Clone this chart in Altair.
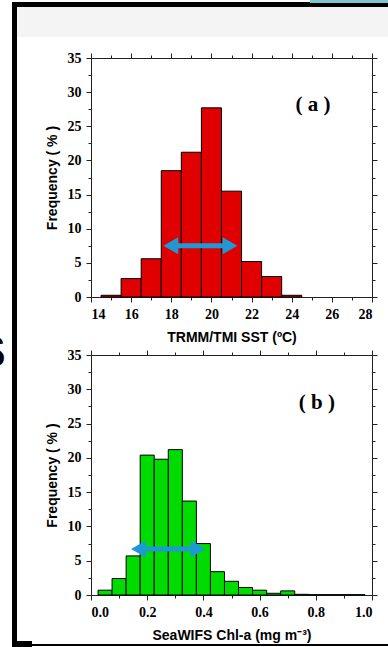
import altair as alt
import pandas as pd

# ---- Panel (a): TRMM/TMI SST, 1 degC bins centred on whole degrees ----
sst_lo = [14.5, 15.5, 16.5, 17.5, 18.5, 19.5, 20.5, 21.5, 22.5, 23.5]
sst_hi = [15.5, 16.5, 17.5, 18.5, 19.5, 20.5, 21.5, 22.5, 23.5, 24.5]
sst_freq = [0.25, 2.7, 5.6, 18.5, 21.2, 27.7, 15.5, 5.2, 3.0, 0.25]
sst_arrow_x = [17.5, 21.4]
sst_arrow_y = 7.5

# ---- Panel (b): SeaWiFS Chl-a, 0.05 mg m-3 bins ----
chl_lo = [0.025, 0.075, 0.125, 0.175, 0.225, 0.275, 0.325, 0.375, 0.425, 0.475,
          0.525, 0.575, 0.625, 0.675, 0.725, 0.775, 0.825, 0.875, 0.925]
chl_hi = [0.075, 0.125, 0.175, 0.225, 0.275, 0.325, 0.375, 0.425, 0.475, 0.525,
          0.575, 0.625, 0.675, 0.725, 0.775, 0.825, 0.875, 0.925, 0.975]
chl_freq = [0.7, 2.4, 5.7, 20.4, 19.8, 21.2, 13.7, 7.5, 3.4, 2.0,
            1.1, 0.7, 0.25, 0.6, 0.1, 0.05, 0.05, 0.05, 0.05]
chl_arrow_x = [0.135, 0.415]
chl_arrow_y = 6.7

sst_ticks = [14, 16, 18, 20, 22, 24, 26, 28]
sst_minor = [15, 17, 19, 21, 23, 25, 27]
chl_ticks = [0.0, 0.2, 0.4, 0.6, 0.8, 1.0]
chl_minor = [0.1, 0.3, 0.5, 0.7, 0.9]
freq_ticks = [0, 5, 10, 15, 20, 25, 30, 35]
freq_minor = [2.5, 7.5, 12.5, 17.5, 22.5, 27.5, 32.5]

W, H = 281, 537          # plot frame width, total stacked height
A_BOTTOM, B_TOP = 239, 297

SERIF = "Liberation Serif"
SANS = "Liberation Sans"
INK = "#222222"
ARROW = "#1d9ad6"

df_a = pd.DataFrame({"lo": sst_lo, "hi": sst_hi, "freq": sst_freq})
df_b = pd.DataFrame({"lo": chl_lo, "hi": chl_hi, "freq": chl_freq})


def frame_axis(orient, values, size, offset=0, domain=True):
    return alt.Axis(orient=orient, values=values, tickSize=size, labels=False,
                    domain=domain, domainColor=INK, tickColor=INK, ticks=True,
                    grid=False, title=None, offset=offset)


def panel(df, xdom, ydom_range, x_off, top_off, major_x, minor_x, xlabel,
          x_fmt, arrow_x, arrow_y, tag, tag_x, tag_y, color):
    xs = alt.Scale(domain=xdom, range=[0, W], nice=False, zero=False)
    ys = alt.Scale(domain=[0, 35], range=ydom_range, nice=False)

    bars = alt.Chart(df).mark_rect(color=color, stroke="black", strokeWidth=1).encode(
        x=alt.X("lo:Q", scale=xs, axis=alt.Axis(
            orient="bottom", offset=x_off, values=major_x, format=x_fmt,
            tickSize=5, tickColor=INK, domainColor=INK, grid=False,
            labelFont=SERIF, labelFontWeight="bold", labelFontSize=14,
            labelColor="black", labelPadding=5,
            title=xlabel, titleFont=SANS, titleFontWeight="bold",
            titleFontSize=14, titleColor="black", titleY=40,
            titleBaseline="middle")),
        x2="hi:Q",
        y=alt.Y("freq:Q", scale=ys, axis=alt.Axis(
            orient="left", values=freq_ticks, tickSize=5, tickColor=INK,
            domainColor=INK, grid=False,
            labelFont=SERIF, labelFontWeight="bold", labelFontSize=14,
            labelColor="black", labelPadding=5,
            title="Frequency ( % )", titleFont=SANS, titleFontWeight="bold",
            titleFontSize=14, titleColor="black", titleX=-39,
            titleBaseline="middle")),
        y2=alt.datum(0),
    )

    def ghost(xaxis, yaxis):
        return alt.Chart(df).mark_point(opacity=0).encode(
            x=alt.X("lo:Q", scale=xs, axis=xaxis),
            y=alt.Y("freq:Q", scale=ys, axis=yaxis),
        )

    frame_major = ghost(frame_axis("top", major_x, 5, top_off),
                        frame_axis("right", freq_ticks, 5))
    minor_bl = ghost(frame_axis("bottom", minor_x, 3, x_off, domain=False),
                     frame_axis("left", freq_minor, 3, domain=False))
    minor_tr = ghost(frame_axis("top", minor_x, 3, top_off, domain=False),
                     frame_axis("right", freq_minor, 3, domain=False))

    arr = pd.DataFrame({"x0": [arrow_x[0]], "x1": [arrow_x[1]], "y": [arrow_y]})
    shaft = alt.Chart(arr).mark_rule(color=ARROW, strokeWidth=5,
                                     xOffset=8, x2Offset=-8).encode(
        x=alt.X("x0:Q", scale=xs, axis=None),
        x2="x1:Q",
        y=alt.Y("y:Q", scale=ys, axis=None),
    )
    head_l = alt.Chart(arr).mark_point(shape="triangle-left", size=290, filled=True,
                                       opacity=1, color=ARROW, xOffset=9.5).encode(
        x=alt.X("x0:Q", scale=xs, axis=None),
        y=alt.Y("y:Q", scale=ys, axis=None),
    )
    head_r = alt.Chart(arr).mark_point(shape="triangle-right", size=290, filled=True,
                                       opacity=1, color=ARROW, xOffset=-9.5).encode(
        x=alt.X("x1:Q", scale=xs, axis=None),
        y=alt.Y("y:Q", scale=ys, axis=None),
    )

    lab = pd.DataFrame({"x": [tag_x], "y": [tag_y], "t": [tag]})
    tag_text = alt.Chart(lab).mark_text(font=SERIF, fontWeight="bold", fontSize=21,
                                        baseline="middle", align="center",
                                        color="black").encode(
        x=alt.X("x:Q", scale=xs, axis=None),
        y=alt.Y("y:Q", scale=ys, axis=None),
        text="t:N",
    )
    return [bars, frame_major, minor_bl, minor_tr, shaft, head_l, head_r, tag_text]


layers_a = panel(df_a, [14, 28], [A_BOTTOM, 0], -(H - A_BOTTOM), 0,
                 sst_ticks, sst_minor, "TRMM/TMI SST (ºC)", "d",
                 sst_arrow_x, sst_arrow_y, "( a )", 25.06, 28.1, "#e00000")
layers_b = panel(df_b, [0, 1], [H, B_TOP], 0, -B_TOP,
                 chl_ticks, chl_minor, "SeaWIFS Chl-a (mg m⁻³)", ".1f",
                 chl_arrow_x, chl_arrow_y, "( b )", 0.804, 28.0, "#00dc00")

# ---- slide frame around the figure ----
one = pd.DataFrame({"k": [0]})


def block(x0, x1, y0, y1, color):
    return alt.Chart(one).mark_rect(color=color).encode(
        x=alt.value(x0), x2=alt.value(x1), y=alt.value(y0), y2=alt.value(y1))


frame = [
    block(-74, 297, -51, -21, "#f4f4f4"),
    block(-79, 297, -56, -51, "black"),
    block(219, 297, -58, -55, "#7cc6cc"),
    block(-79, -74, -56, 589, "black"),
    block(-79, -59, 583, 589, "black"),
    block(-79, 297, 586, 588, "black"),
    alt.Chart(one).mark_text(text="S", font=SANS, fontWeight="bold", fontSize=44,
                             baseline="middle", align="center", color="black").encode(
        x=alt.value(-100), y=alt.value(296)),
]

chart = alt.layer(*frame, *layers_a, *layers_b).resolve_scale(
    x="independent", y="independent"
).resolve_axis(
    x="independent", y="independent"
).properties(
    width=W, height=H,
    autosize=alt.AutoSizeParams(type="none"),
    padding={"left": 91, "top": 58, "right": 16, "bottom": 52},
    background="white",
).configure_view(stroke=None)

chart.save("out.html", embed_options={"renderer": "svg", "actions": False})
